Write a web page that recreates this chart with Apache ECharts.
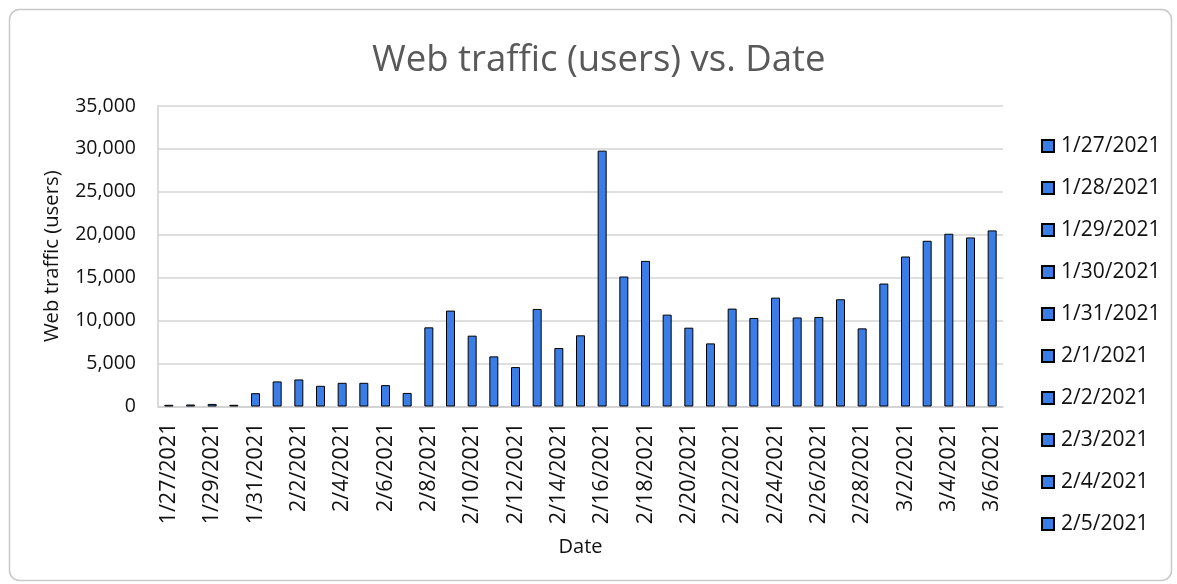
<!DOCTYPE html>
<html>
<head>
<meta charset="utf-8">
<script src="https://cdn.jsdelivr.net/npm/echarts@6/dist/echarts.min.js"></script>
<style>
html,body{margin:0;padding:0;background:#fff;}
#chart{width:1177px;height:584px;}
</style>
</head>
<body>
<div id="chart"></div>
<script>
var dates = ['1/27/2021','1/28/2021','1/29/2021','1/30/2021','1/31/2021',
  '2/1/2021','2/2/2021','2/3/2021','2/4/2021','2/5/2021','2/6/2021','2/7/2021',
  '2/8/2021','2/9/2021','2/10/2021','2/11/2021','2/12/2021','2/13/2021','2/14/2021',
  '2/15/2021','2/16/2021','2/17/2021','2/18/2021','2/19/2021','2/20/2021','2/21/2021',
  '2/22/2021','2/23/2021','2/24/2021','2/25/2021','2/26/2021','2/27/2021','2/28/2021',
  '3/1/2021','3/2/2021','3/3/2021','3/4/2021','3/5/2021','3/6/2021'];
var users = [200,230,300,200,1550,
  2920,3150,2410,2760,2760,2490,1580,
  9220,11170,8250,5840,4590,11360,6810,
  8290,29800,15140,16960,10700,9180,7350,
  11400,10310,12680,10370,10430,12490,9100,
  14320,17470,19300,20120,19690,20510];
var legendNames = dates.slice(0, 10);
var yTicks = {min: 0, max: 35000, interval: 5000};

var barColor = '#3b7de6';
var textColor = '#111';
var font = '"Open Sans", "Liberation Sans", Arial, sans-serif';

var series = [{
  name: 'Web traffic (users)',
  type: 'bar',
  stack: 'all',
  data: users,
  barWidth: 9,
  itemStyle: {color: barColor, borderColor: '#000', borderWidth: 1}
}];
legendNames.forEach(function (n) {
  series.push({
    name: n, type: 'bar', stack: 'all', data: [],
    itemStyle: {color: barColor, borderColor: '#000', borderWidth: 1}
  });
});

var chart = echarts.init(document.getElementById('chart'));
chart.setOption({
  backgroundColor: '#fff',
  animation: false,
  textStyle: {fontFamily: font},
  graphic: [{
    type: 'rect', left: 7, top: 7, silent: true,
    shape: {width: 1162, height: 571, r: 10},
    style: {fill: 'none', stroke: '#c8c8c8', lineWidth: 1.5}
  }],
  title: {
    text: 'Web traffic (users) vs. Date',
    left: 367, top: 37,
    textStyle: {fontFamily: font, fontSize: 36.5, fontWeight: 'normal', color: '#595959'}
  },
  legend: {
    orient: 'vertical',
    left: 1041, top: 135,
    padding: 0,
    data: legendNames,
    icon: 'rect',
    itemWidth: 12, itemHeight: 12,
    itemGap: 20,
    textStyle: {fontFamily: font, fontSize: 21, color: textColor, lineHeight: 22, padding: [0,0,0,2]}
  },
  grid: {left: 158, right: 174, top: 106, bottom: 177.5},
  xAxis: {
    type: 'category',
    data: dates,
    name: 'Date',
    nameLocation: 'middle',
    nameGap: 131,
    nameTextStyle: {fontFamily: font, fontSize: 20, color: textColor},
    axisLine: {lineStyle: {color: '#d0d0d0', width: 1.5}},
    axisTick: {show: false},
    axisLabel: {rotate: 90, interval: 1, margin: 16, fontFamily: font, fontSize: 21.5, color: textColor}
  },
  yAxis: {
    type: 'value',
    min: yTicks.min, max: yTicks.max, interval: yTicks.interval,
    name: 'Web traffic (users)',
    nameLocation: 'middle',
    nameRotate: 90,
    nameGap: 96,
    nameTextStyle: {fontFamily: font, fontSize: 20.3, color: textColor},
    axisLine: {show: true, lineStyle: {color: '#d0d0d0', width: 1.5}},
    axisTick: {show: false},
    splitLine: {lineStyle: {color: '#d4d4d4', width: 1.5}},
    axisLabel: {
      margin: 22, fontFamily: font, fontSize: 19.5, color: textColor,
      formatter: function (v) { return v.toLocaleString('en-US'); }
    }
  },
  series: series
});
</script>
</body>
</html>
